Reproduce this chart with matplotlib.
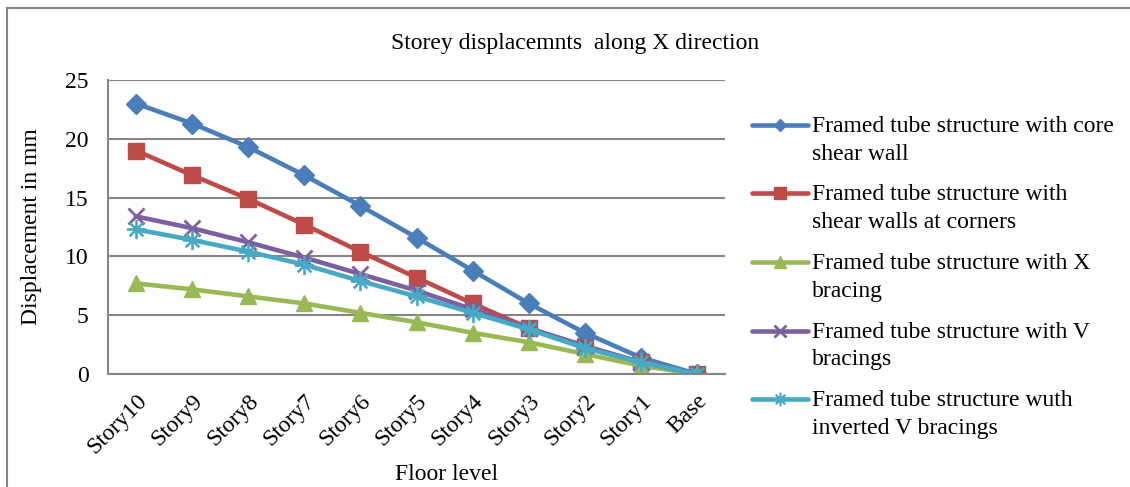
import matplotlib.pyplot as plt
from matplotlib.lines import Line2D
from matplotlib.patches import Rectangle

plt.rcParams['font.family'] = ['Liberation Serif', 'DejaVu Serif']

floors = ['Story10', 'Story9', 'Story8', 'Story7', 'Story6', 'Story5',
          'Story4', 'Story3', 'Story2', 'Story1', 'Base']

core_wall = [23.0, 21.3, 19.3, 16.9, 14.3, 11.6, 8.8, 6.0, 3.5, 1.4, 0]
corner_walls = [19.0, 16.9, 14.9, 12.7, 10.4, 8.2, 6.0, 3.9, 2.3, 1.0, 0]
x_bracing = [7.7, 7.2, 6.6, 6.0, 5.2, 4.4, 3.5, 2.7, 1.7, 0.7, 0]
v_bracing = [13.4, 12.4, 11.2, 9.9, 8.5, 7.1, 5.5, 3.9, 2.4, 1.0, 0]
inv_v_bracing = [12.3, 11.4, 10.4, 9.3, 7.9, 6.6, 5.2, 3.8, 2.2, 1.0, 0]

labels = ['Framed tube structure with core\nshear wall',
          'Framed tube structure with\nshear walls at corners',
          'Framed tube structure with X\nbracing',
          'Framed tube structure with V\nbracings',
          'Framed tube structure wuth\ninverted V bracings']

series = [core_wall, corner_walls, x_bracing, v_bracing, inv_v_bracing]
colors = ['#4A7EBB', '#BE4B48', '#98B954', '#7D60A0', '#46AAC5']
markers = ['D', 's', '^', 'x', '$\u2733$']
msizes = [10, 12, 12, 12, 13]
leg_ms = [6, 8, 8, 8, 9]

W, H = 1130, 487
fig = plt.figure(figsize=(W / 100, H / 100), dpi=100)
ax = fig.add_axes([108 / W, 1 - 374 / H, (725 - 108) / W, (374 - 80) / H])

# outer chart border (right and bottom edges fall outside the image)
fig.patches.append(Rectangle((7 / W, -0.2), 1.2, 1.2 - 8 / H,
                             transform=fig.transFigure, fill=False,
                             edgecolor='#868686', linewidth=1.5))

x = range(len(floors))
for vals, c, m, ms in zip(series, colors, markers, msizes):
    mew = 2 if m == 'x' else 1
    ax.plot(x, vals, color=c, linewidth=3.3, marker=m, markersize=ms,
            markeredgewidth=mew, markeredgecolor=c, markerfacecolor=c)

ax.set_xlim(-0.5, 10.5)
ax.set_ylim(0, 25)
ax.set_yticks([0, 5, 10, 15, 20, 25])
ax.set_xticks(list(x))
ax.set_xticklabels(floors, rotation=45, ha='right', va='top', rotation_mode='anchor')
ax.tick_params(axis='both', length=0, labelsize=17, pad=12)
ax.tick_params(axis='y', pad=14)
ax.grid(axis='y', color='#868686', linewidth=1.5)
ax.set_axisbelow(True)
for s in ['top', 'right']:
    ax.spines[s].set_visible(False)
for s in ['left', 'bottom']:
    ax.spines[s].set_color('#868686')
    ax.spines[s].set_linewidth(1.5)

ax.set_xlabel('Floor level', fontsize=17)
ax.xaxis.set_label_coords((447 - 108) / (725 - 108), (374 - 464) / (374 - 80))
ax.set_ylabel('Displacement in mm', fontsize=17)
ax.yaxis.set_label_coords((42 - 108) / (725 - 108), 0.5)

fig.text(575 / W, 1 - 43 / H, 'Storey displacemnts  along X direction',
         ha='center', va='center', fontsize=17)

# legend drawn by hand so the key sits beside the first line of each label
for i, (lab, c, m, ms) in enumerate(zip(labels, colors, markers, leg_ms)):
    yk = 1 - (125 + i * 68.5) / H
    fig.add_artist(Line2D([752 / W, 808 / W], [yk, yk], transform=fig.transFigure,
                          color=c, linewidth=3.3, solid_capstyle='round'))
    fig.add_artist(Line2D([780 / W], [yk], transform=fig.transFigure, color=c,
                          marker=m, markersize=ms,
                          markeredgewidth=2 if m == 'x' else 1,
                          markeredgecolor=c, markerfacecolor=c))
    fig.text(812 / W, yk + 9 / H, lab, ha='left', va='top', fontsize=17,
             linespacing=1.42)

fig.savefig('out.png', dpi=100)
